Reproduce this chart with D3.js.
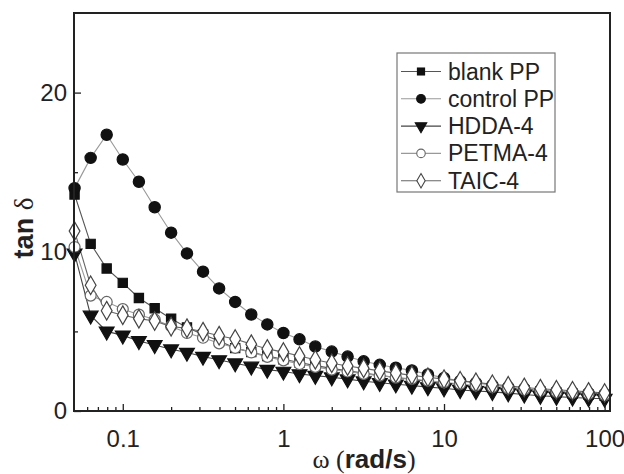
<!DOCTYPE html>
<html>
<head>
<meta charset="utf-8">
<script src="https://cdn.jsdelivr.net/npm/d3@7"></script>
<style>
  body { margin: 0; background: #fff; }
  svg { display: block; }
  .axis text { font-family: "Liberation Sans", Arial, sans-serif; font-size: 24px; fill: #222; }
</style>
</head>
<body>
<div class="canvas"></div>
<script>
// frequencies (rad/s)
const omega = [0.0501, 0.0631, 0.0794, 0.1, 0.126, 0.158, 0.2, 0.251, 0.316, 0.398,
  0.501, 0.631, 0.794, 1, 1.26, 1.58, 2, 2.51, 3.16, 3.98,
  5.01, 6.31, 7.94, 10, 12.6, 15.8, 20, 25.1, 31.6, 39.8,
  50.1, 63.1, 79.4, 100];

const blankPP = [13.6, 10.5, 8.95, 8.05, 7.1, 6.45, 5.8, 5.25, 4.8, 4.4,
  3.95, 3.7, 3.45, 3.25, 3.05, 2.85, 2.68, 2.52, 2.38, 2.24,
  2.1, 1.98, 1.86, 1.75, 1.65, 1.55, 1.46, 1.38, 1.3, 1.22,
  1.15, 1.08, 1.02, 0.96];
const controlPP = [14.0, 15.9, 17.35, 15.8, 14.4, 12.8, 11.2, 9.9, 8.75, 7.7,
  6.85, 6.06, 5.44, 4.9, 4.5, 4.05, 3.73, 3.42, 3.12, 2.9,
  2.72, 2.55, 2.3, 2.08, 1.88, 1.76, 1.62, 1.5, 1.4, 1.3,
  1.23, 1.17, 1.12, 1.06];
const hdda4 = [9.9, 6.0, 5.0, 4.75, 4.4, 4.15, 3.88, 3.67, 3.42, 3.2,
  3.0, 2.8, 2.6, 2.48, 2.32, 2.22, 2.12, 2.0, 1.87, 1.77,
  1.68, 1.6, 1.5, 1.43, 1.32, 1.26, 1.2, 1.12, 1.04, 0.96,
  0.9, 0.85, 0.8, 0.78];
const petma4 = [10.3, 7.25, 6.85, 6.4, 6.05, 5.75, 5.33, 4.9, 4.6, 4.25,
  3.97, 3.68, 3.4, 3.18, 2.95, 2.77, 2.6, 2.48, 2.33, 2.22,
  2.1, 2.02, 1.9, 1.8, 1.7, 1.6, 1.5, 1.42, 1.35, 1.27,
  1.2, 1.13, 1.07, 1.0];
const taic4 = [11.3, 7.9, 6.3, 6.02, 5.8, 5.65, 5.3, 5.2, 4.98, 4.73,
  4.52, 4.2, 3.9, 3.7, 3.45, 3.22, 3.0, 2.83, 2.68, 2.52,
  2.38, 2.24, 2.12, 2.0, 1.9, 1.8, 1.68, 1.58, 1.48, 1.4,
  1.33, 1.27, 1.2, 1.13];

const seriesNames = ['blank PP', 'control PP', 'HDDA-4', 'PETMA-4', 'TAIC-4'];
const seriesValues = [blankPP, controlPP, hdda4, petma4, taic4];

const xMajor = [0.1, 1, 10, 100];
const xMinor = [0.06, 0.07, 0.08, 0.09, 0.2, 0.3, 0.4, 0.5, 0.6, 0.7, 0.8, 0.9,
  2, 3, 4, 5, 6, 7, 8, 9, 20, 30, 40, 50, 60, 70, 80, 90];
const yMajor = [0, 10, 20];
const yMinor = [5, 15];

// styles per series
const lineColor = ['#555', '#999', '#444', '#999', '#666'];
const markerFill = ['#111', '#111', '#111', '#fff', '#fff'];
const markerStroke = ['#111', '#111', '#111', '#666', '#444'];
const markerType = [d3.symbolSquare, d3.symbolCircle, d3.symbolTriangle, d3.symbolCircle, d3.symbolDiamond];
const markerSize = [85, 100, 95, 95, 100];

const W = 624, H = 474;
const margin = { top: 13, right: 14, bottom: 63, left: 74 };
const graphWidth = W - margin.left - margin.right;
const graphHeight = H - margin.top - margin.bottom;

const svg = d3.select('.canvas').append('svg')
    .attr('width', W)
    .attr('height', H)

const graph = svg.append('g')
    .attr('transform', `translate(${margin.left}, ${margin.top})`)

const x = d3.scaleLog().domain([0.0497, 108]).range([0, graphWidth]);
const y = d3.scaleLinear().domain([0, 25]).range([graphHeight, 0]);

// lines + markers
const line = d3.line()
    .x((d, i) => x(omega[i]))
    .y(d => y(d))

seriesValues.forEach((vals, s) => {
    graph.append('path')
        .datum(vals)
        .attr('d', line)
        .attr('fill', 'none')
        .attr('stroke', lineColor[s])
        .attr('stroke-width', 1.1)
})

seriesValues.forEach((vals, s) => {
    const sym = d3.symbol().type(markerType[s]).size(markerSize[s]);
    graph.selectAll('.m' + s)
        .data(vals)
        .enter()
        .append('path')
        .attr('class', 'm' + s)
        .attr('d', sym)
        .attr('transform', (d, i) => {
            const rot = markerType[s] === d3.symbolTriangle ? ' rotate(180)' : '';
            return `translate(${x(omega[i])},${y(d)})${rot}`;
        })
        .attr('fill', markerFill[s])
        .attr('stroke', markerStroke[s])
        .attr('stroke-width', 1.2)
})

// axes (ticks inside)
const xAxisGroup = graph.append('g')
    .attr('class', 'axis')
    .attr('transform', `translate(0,${graphHeight})`)
    .call(d3.axisBottom(x).tickValues(xMajor).tickSize(-7).tickPadding(19).tickFormat(d => d3.format('')(d)))

graph.append('g')
    .attr('transform', `translate(0,${graphHeight})`)
    .call(d3.axisBottom(x).tickValues(xMinor).tickSize(-4).tickFormat(''))

const yAxisGroup = graph.append('g')
    .attr('class', 'axis')
    .call(d3.axisLeft(y).tickValues(yMajor).tickSize(-7).tickPadding(7))

graph.append('g')
    .call(d3.axisLeft(y).tickValues(yMinor).tickSize(-4).tickFormat(''))

graph.selectAll('.domain').remove()
graph.selectAll('.tick line').attr('stroke', '#222').attr('stroke-width', 1.3)

// frame
graph.append('rect')
    .attr('width', graphWidth)
    .attr('height', graphHeight)
    .attr('fill', 'none')
    .attr('stroke', '#222')
    .attr('stroke-width', 2)

// axis titles
svg.append('text')
    .attr('x', 364)
    .attr('y', 468)
    .attr('text-anchor', 'middle')
    .style('font-size', '26px')
    .style('fill', '#222')
    .call(t => {
        t.append('tspan').attr('font-family', '"Liberation Serif", serif').text('ω (');
        t.append('tspan').attr('font-family', '"Liberation Sans", Arial, sans-serif').attr('font-weight', 'bold').text('rad/s');
        t.append('tspan').attr('font-family', '"Liberation Serif", serif').text(')');
    })

svg.append('text')
    .attr('transform', 'translate(33,228) rotate(-90)')
    .attr('text-anchor', 'middle')
    .style('font-size', '27px')
    .style('fill', '#222')
    .call(t => {
        t.append('tspan').attr('font-family', '"Liberation Sans", Arial, sans-serif').attr('font-weight', 'bold').text('tan ');
        t.append('tspan').attr('font-family', '"Liberation Serif", serif').text('δ');
    })

// legend
const legend = svg.append('g').attr('transform', 'translate(397,53)')
legend.append('rect')
    .attr('width', 158)
    .attr('height', 139)
    .attr('fill', '#fff')
    .attr('stroke', '#777')
    .attr('stroke-width', 1.2)

seriesNames.forEach((name, s) => {
    const row = legend.append('g').attr('transform', `translate(0,${18.5 + s * 27.3})`)
    row.append('line')
        .attr('x1', 4).attr('x2', 44)
        .attr('stroke', lineColor[s])
        .attr('stroke-width', 1.1)
    row.append('path')
        .attr('d', d3.symbol().type(markerType[s]).size(markerSize[s] * 0.6))
        .attr('transform', markerType[s] === d3.symbolTriangle ? 'translate(24,0) rotate(180)' : 'translate(24,0)')
        .attr('fill', markerFill[s])
        .attr('stroke', markerStroke[s])
        .attr('stroke-width', 1.1)
    row.append('text')
        .attr('x', 51)
        .attr('y', 8)
        .style('font-family', '"Liberation Sans", Arial, sans-serif')
        .style('font-size', '23px')
        .style('fill', '#222')
        .text(name)
})
</script>
</body>
</html>
